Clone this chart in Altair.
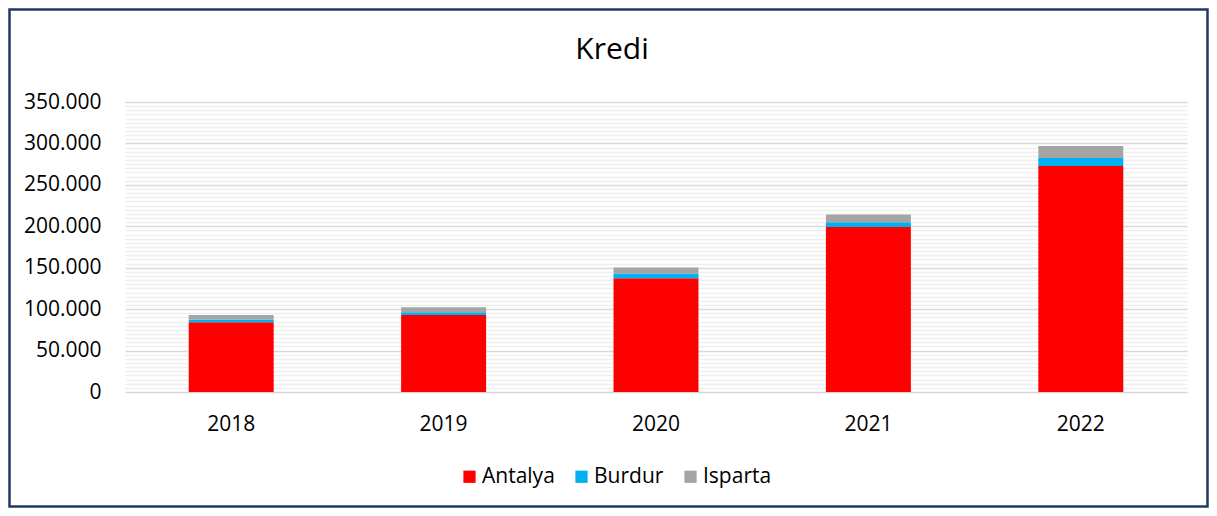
import altair as alt
import pandas as pd

years = ["2018", "2019", "2020", "2021", "2022"]
antalya = [84300, 92800, 137400, 199000, 272700]
burdur = [3300, 3600, 5700, 6000, 9700]
isparta = [5200, 6000, 7200, 9300, 14500]
series = ["Antalya", "Burdur", "Isparta"]
colors = ["#FF0000", "#00B0F0", "#A5A5A5"]
y_ticks = list(range(0, 350001, 5000))

rows = []
for i, yr in enumerate(years):
    for k, (name, vals) in enumerate(zip(series, [antalya, burdur, isparta])):
        rows.append({"Yil": yr, "Seri": name, "Deger": vals[i], "Sira": k})
df = pd.DataFrame(rows)

FONT = "Open Sans"

bars = alt.Chart(df).mark_bar().encode(
    x=alt.X(
        "Yil:N",
        scale=alt.Scale(paddingInner=0.6, paddingOuter=0.3),
        axis=alt.Axis(title=None, labelAngle=0, labelFontSize=21, labelPadding=21,
                      ticks=False, domain=False, labelColor="#000000", grid=False),
    ),
    y=alt.Y(
        "Deger:Q",
        stack="zero",
        scale=alt.Scale(domain=[0, 350000], nice=False),
        axis=alt.Axis(
            title=None, values=y_ticks, format=",d",
            labelExpr="datum.value % 50000 === 0 ? datum.label : ''",
            labelOverlap=False, ticks=False, domain=False, labelPadding=24,
            labelFontSize=21, labelColor="#000000",
            gridColor={"condition": {"test": "datum.value % 50000 === 0", "value": "#d9d9d9"},
                       "value": "#efefef"},
            gridWidth=1.5,
        ),
    ),
    color=alt.Color(
        "Seri:N",
        scale=alt.Scale(domain=series, range=colors),
        legend=alt.Legend(
            title=None, orient="none", direction="horizontal", legendX=334, legendY=364,
            symbolType="square", symbolSize=150, symbolStrokeWidth=0,
            labelFontSize=21, labelFont=FONT, labelColor="#000000",
            columnPadding=16, labelOffset=2,
        ),
    ),
    order=alt.Order("Sira:Q"),
)

frame = alt.Chart(pd.DataFrame({"f": [0]})).mark_rect(
    fillOpacity=0, stroke="#1F3864", strokeWidth=2.5
).encode(
    x=alt.value(-115.5), x2=alt.value(1082.5), y=alt.value(-92.5), y2=alt.value(404.5)
)

chart = alt.layer(bars, frame).properties(
    width=1062,
    height=290,
    padding={"left": 117, "top": 94, "right": 22, "bottom": 116},
    autosize=alt.AutoSizeParams(type="none"),
    title=alt.TitleParams(text="Kredi", fontSize=30, font=FONT, fontWeight="normal",
                          anchor="middle", frame="group", dx=-44, offset=-81,
                          baseline="alphabetic", color="#000000"),
).configure(
    font=FONT,
    locale={"number": {"decimal": ",", "thousands": ".", "grouping": [3],
                       "currency": ["", ""]}},
).configure_view(strokeWidth=0)

chart.save("out.html", embed_options={"renderer": "svg", "actions": False})
